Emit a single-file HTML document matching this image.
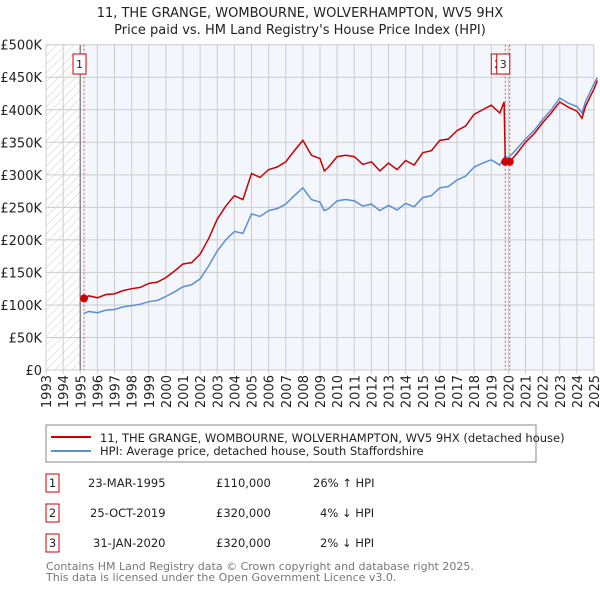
<!DOCTYPE html>
<html><head><meta charset="utf-8"><style>
body{margin:0;background:#fff;font-family:"Liberation Sans","DejaVu Sans",sans-serif}
svg text{font-family:"DejaVu Sans","Liberation Sans",sans-serif}
</style></head><body>
<svg id="c" width="600" height="590" xmlns="http://www.w3.org/2000/svg">
<defs><pattern id="hatch" width="6" height="6" patternUnits="userSpaceOnUse" patternTransform="rotate(45)"><line x1="0" y1="0" x2="0" y2="6" stroke="#ccc" stroke-width="1"/></pattern></defs>
<text x="300" y="17" text-anchor="middle" font-size="13" fill="#222">11, THE GRANGE, WOMBOURNE, WOLVERHAMPTON, WV5 9HX</text>
<text x="300" y="34" text-anchor="middle" font-size="13" fill="#222">Price paid vs. HM Land Registry's House Price Index (HPI)</text>
<g id="plot"></g>
<rect x="46" y="425" width="490" height="37" fill="#fff" stroke="#888"/>
<line x1="51" y1="437" x2="91" y2="437" stroke="#cc0000" stroke-width="2"/>
<text x="100" y="442" font-size="11.5" fill="#222">11, THE GRANGE, WOMBOURNE, WOLVERHAMPTON, WV5 9HX (detached house)</text>
<line x1="51" y1="451" x2="91" y2="451" stroke="#5b8fd4" stroke-width="2"/>
<text x="100" y="455" font-size="11.5" fill="#222">HPI: Average price, detached house, South Staffordshire</text>
<g font-size="11.5" fill="#222">
<rect x="46" y="474" width="13" height="18" fill="none" stroke="#cc0000"/><text x="52.5" y="487" text-anchor="middle">1</text>
<text x="88" y="487">23-MAR-1995</text><text x="216" y="487">£110,000</text><text x="313" y="487">26% ↑ HPI</text>
<rect x="46" y="504" width="13" height="18" fill="none" stroke="#cc0000"/><text x="52.5" y="517" text-anchor="middle">2</text>
<text x="90" y="517">25-OCT-2019</text><text x="216" y="517">£320,000</text><text x="320" y="517">4% ↓ HPI</text>
<rect x="46" y="534" width="13" height="18" fill="none" stroke="#cc0000"/><text x="52.5" y="547" text-anchor="middle">3</text>
<text x="93" y="547">31-JAN-2020</text><text x="216" y="547">£320,000</text><text x="320" y="547">2% ↓ HPI</text>
</g>
<text x="46" y="570" font-size="11" fill="#777">Contains HM Land Registry data © Crown copyright and database right 2025.</text>
<text x="46" y="581" font-size="11" fill="#777">This data is licensed under the Open Government Licence v3.0.</text>
</svg>
<script>
const hpiYears=[1995.2,1995.5,1996,1996.5,1997,1997.5,1998,1998.5,1999,1999.5,2000,2000.5,2001,2001.5,2002,2002.5,2003,2003.5,2004,2004.5,2005,2005.5,2006,2006.5,2007,2007.5,2008,2008.5,2009,2009.25,2009.5,2010,2010.5,2011,2011.5,2012,2012.5,2013,2013.5,2014,2014.5,2015,2015.5,2016,2016.5,2017,2017.5,2018,2018.5,2019,2019.5,2019.8,2020,2020.5,2021,2021.5,2022,2022.5,2023,2023.5,2024,2024.3,2024.5,2025,2025.2];
const hpiValues=[87,90,88,92,93,97,99,101,105,107,113,120,128,131,140,160,183,200,213,210,240,236,245,248,255,268,280,262,258,245,248,260,262,260,252,255,245,253,246,256,251,265,268,280,282,292,298,312,318,323,315,328,326,340,355,368,385,400,418,410,405,395,412,440,450];
const priceYears=[1995.2,1995.5,1996,1996.5,1997,1997.5,1998,1998.5,1999,1999.5,2000,2000.5,2001,2001.5,2002,2002.5,2003,2003.5,2004,2004.5,2005,2005.5,2006,2006.5,2007,2007.5,2008,2008.5,2009,2009.25,2009.5,2010,2010.5,2011,2011.5,2012,2012.5,2013,2013.5,2014,2014.5,2015,2015.5,2016,2016.5,2017,2017.5,2018,2018.5,2019,2019.5,2019.75,2019.82,2020.08,2020.5,2021,2021.5,2022,2022.5,2023,2023.5,2024,2024.3,2024.5,2025,2025.2];
const priceValues=[110,114,111,116,117,122,125,127,133,135,142,152,163,165,178,202,232,252,268,262,302,296,308,312,320,337,353,330,325,306,312,328,330,328,316,320,306,318,308,322,315,334,337,353,355,368,375,393,400,407,395,412,320,320,333,350,363,380,395,412,404,398,387,405,432,445];
const sales=[[1995.22,110],[2019.82,320],[2020.08,320]];
const yTicks=[0,50,100,150,200,250,300,350,400,450,500];
const yLabels=["£0","£50K","£100K","£150K","£200K","£250K","£300K","£350K","£400K","£450K","£500K"];
const xTicks=[1993,1994,1995,1996,1997,1998,1999,2000,2001,2002,2003,2004,2005,2006,2007,2008,2009,2010,2011,2012,2013,2014,2015,2016,2017,2018,2019,2020,2021,2022,2023,2024,2025];

const NS="http://www.w3.org/2000/svg",L=46,R=594,T=44.7,B=370;
const X=y=>L+(y-1993)/32*(R-L), Y=v=>B-v/500*(B-T);
const g=document.getElementById('plot');
function mk(t,a,p){const e=document.createElementNS(NS,t);for(const k in a)e.setAttribute(k,a[k]);(p||g).appendChild(e);return e;}
const bg=mk('rect',{x:L,y:T,width:R-L,height:B-T,fill:'#f3f6fd'});


const ht=mk('rect',{x:L,y:T,width:X(1995)-L,height:B-T,fill:'#fff'});


const hh=mk('rect',{x:L,y:T,width:X(1995)-L,height:B-T,fill:'url(#hatch)'});


yTicks.forEach((v,i)=>{
 const l=mk('line',{x1:L,x2:R,y1:Y(v),y2:Y(v),stroke:'#cccccc'});
 
 
 const t=mk('text',{x:L-4,y:Y(v)+5,'text-anchor':'end','font-size':'13',fill:'#222'});t.textContent=yLabels[i];
 
 
});
xTicks.forEach(y=>{
 const l=mk('line',{x1:X(y),x2:X(y),y1:T,y2:B+4,stroke:'#cccccc'});
 
 
 const t=mk('text',{x:0,y:0,'text-anchor':'end','font-size':'13',fill:'#222',transform:`translate(${X(y)+5},${B+5}) rotate(-90)`});t.textContent=y;
 
 
});
const v95=mk('line',{x1:X(1995),x2:X(1995),y1:T,y2:B,stroke:'#888','stroke-width':1.5});


sales.forEach(s=>{
 const l=mk('line',{x1:X(s[0]),x2:X(s[0]),y1:T,y2:B,stroke:'#ee5555','stroke-dasharray':'2,2'});
 
 
});
const hp=mk('polyline',{points:hpiYears.map((y,i)=>X(y)+','+Y(hpiValues[i])).join(' '),fill:'none',stroke:'#5b8fd4','stroke-width':1.5});


const pp=mk('polyline',{points:priceYears.map((y,i)=>X(y)+','+Y(priceValues[i])).join(' '),fill:'none',stroke:'#cc0000','stroke-width':1.5});


sales.forEach(s=>{
 const c=mk('circle',{cx:X(s[0]),cy:Y(s[1]),r:4,fill:'#cc0000'});
 
 
});
[[1,X(1995.22)-5],[2,X(2019.82)-8],[3,X(2020.08)-7]].forEach(m=>{
 const r=mk('rect',{x:m[1]-6,y:54,width:13,height:20,fill:'#fff',stroke:'#cc0000'});
 
 
 const t=mk('text',{x:m[1]+0.5,y:68,'text-anchor':'middle','font-size':'11',fill:'#222'});t.textContent=m[0];
 
 
});
</script>
</body></html>
